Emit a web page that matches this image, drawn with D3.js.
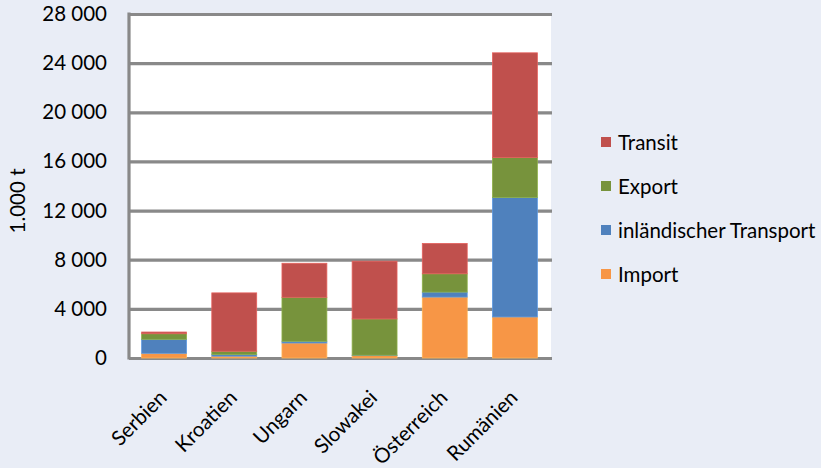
<!DOCTYPE html>
<html>
<head>
<meta charset="utf-8">
<script src="https://cdn.jsdelivr.net/npm/d3@7"></script>
<style>
  html, body { margin: 0; padding: 0; background: #E9EDF6; }
  svg { display: block; }
  text { font-family: Lato, "Open Sans", sans-serif; fill: #000; }
</style>
</head>
<body>
<svg id="chart" width="821" height="468"></svg>
<script>
const categories = ["Serbien", "Kroatien", "Ungarn", "Slowakei", "Österreich", "Rumänien"];
const seriesNames = ["Import", "inländischer Transport", "Export", "Transit"];
const importVals = [380, 150, 1220, 200, 4960, 3340];
const inlandVals = [1140, 130, 140, 30, 405, 9730];
const exportVals = [455, 270, 3580, 2950, 1490, 3250];
const transitVals = [140, 4750, 2770, 4700, 2470, 8520];
const seriesColors = ["#F79646", "#4F81BD", "#77933C", "#C0504D"];
const yTicks = [0, 4000, 8000, 12000, 16000, 20000, 24000, 28000];
const legendOrder = ["Transit", "Export", "inländischer Transport", "Import"];

const svg = d3.select("#chart");
const pLeft = 129, pRight = 550, pTop = 14, pBottom = 358;
const FS = "20.5px";

const x = d3.scaleBand().domain(categories).range([pLeft, pRight]).paddingInner(0.36).paddingOuter(0.18);
const y = d3.scaleLinear().domain([0, 28000]).range([pBottom, pTop]);
const color = d3.scaleOrdinal().domain(seriesNames).range(seriesColors);

const rows = categories.map((c, i) => ({
  cat: c,
  "Import": importVals[i],
  "inländischer Transport": inlandVals[i],
  "Export": exportVals[i],
  "Transit": transitVals[i]
}));
const stacked = d3.stack().keys(seriesNames)(rows);

// plot area
svg.append("rect").attr("x", pLeft).attr("y", pTop).attr("width", pRight - pLeft + 1).attr("height", pBottom - pTop).attr("fill", "#fff");

// gridlines + tick labels
const fmt = v => v === 0 ? "0" : d3.format(",")(v).replace(/,/g, " ");
const yAxis = d3.axisLeft(y).tickValues(yTicks).tickSize(-(pRight - pLeft + 2)).tickFormat(fmt).tickPadding(22);
const gy = svg.append("g").attr("transform", `translate(${pLeft},0)`).call(yAxis);
gy.select(".domain").remove();
gy.selectAll(".tick line").attr("stroke", "#898989").attr("stroke-width", 3.2);
gy.selectAll(".tick text").style("font-size", FS).attr("fill", "#000").attr("font-family", null);

// left axis line
svg.append("line").attr("x1", pLeft).attr("x2", pLeft).attr("y1", pTop - 1.5).attr("y2", pBottom + 1.5)
  .attr("stroke", "#898989").attr("stroke-width", 3.2);

// bars
svg.append("g").selectAll("g").data(stacked).join("g")
  .attr("fill", d => color(d.key))
  .selectAll("rect").data(d => d.map(v => ({v, key: d.key}))).join("rect")
  .attr("x", d => x(d.v.data.cat))
  .attr("width", x.bandwidth())
  .attr("y", d => y(d.v[1]))
  .attr("height", d => y(d.v[0]) - y(d.v[1]))
  .attr("stroke", d => d3.color(color(d.key)).brighter(0.5))
  .attr("stroke-width", 0.8);

// x labels
const xl = svg.append("g");
categories.forEach(c => {
  const cx = x(c) + x.bandwidth() / 2 + 4;
  const cy = 399;
  xl.append("text")
    .attr("transform", `translate(${cx},${cy}) rotate(-45)`)
    .attr("text-anchor", "end")
    .style("font-size", FS)
    .text(c);
});

// y title
svg.append("text")
  .attr("transform", `translate(25,201) rotate(-90)`)
  .attr("text-anchor", "middle")
  .style("font-size", FS)
  .text("1.000 t");

// legend
const lg = svg.append("g");
legendOrder.forEach((name, i) => {
  const cy = 143 + i * 44;
  lg.append("rect").attr("x", 601).attr("y", cy - 6).attr("width", 10).attr("height", 10).attr("fill", color(name));
  lg.append("text").attr("x", 618).attr("y", cy).attr("dy", "0.35em").style("font-size", FS).text(name);
});
</script>
</body>
</html>
